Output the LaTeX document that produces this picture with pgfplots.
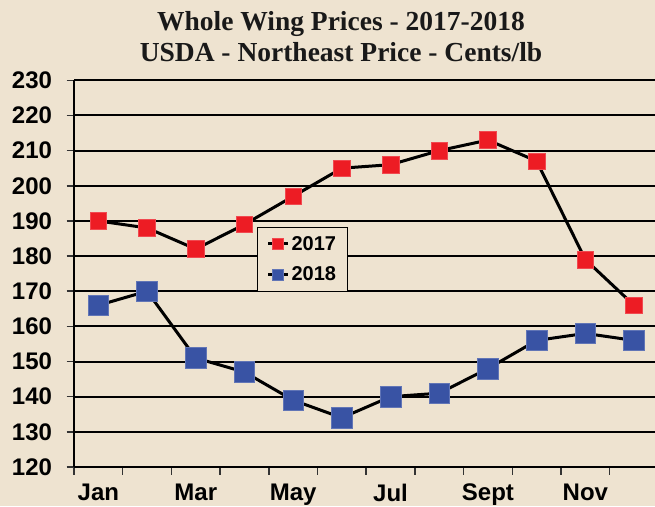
\documentclass[border=0pt]{standalone}
\usepackage{pgfplots}
\pgfplotsset{compat=1.18}
\usepackage{fontspec}
\setmainfont{Liberation Sans}
\newfontfamily\titlefont{Liberation Serif}
\definecolor{bg}{HTML}{EEE3D0}
\definecolor{sred}{HTML}{ED1C24}
\definecolor{sblue}{HTML}{3953A4}
\begin{document}
\begin{tikzpicture}[x=1pt,y=1pt]
\path[use as bounding box, fill=bg] (0,0) rectangle (655,506);
\node[anchor=base, font=\titlefont\bfseries\fontsize{27.5}{30}\selectfont, text=black!90] at (341,475) {Whole Wing Prices - 2017-2018};
\node[anchor=base, font=\titlefont\bfseries\fontsize{27.5}{30}\selectfont, text=black!90] at (341,444) {USDA - Northeast Price - Cents/lb};
\begin{axis}[
  at={(74pt,39pt)}, anchor=south west,
  scale only axis, width=581pt, height=386.7pt,
  xmin=0, xmax=11.93, ymin=120, ymax=230,
  axis x line*=bottom, axis y line*=left,
  axis line style={black, line width=2pt},
  ytick={120,130,...,230},
  xtick={0,2,4,6,8,10},
  xticklabels={Jan,Mar,May,Jul,Sept,Nov},
  minor xtick={1,3,5,7,9,11},
  x tick label style={xshift=24.35pt, yshift=-6pt},
  y tick label style={xshift=-11pt},
  /pgf/number format/assume math mode=true,
  tick align=outside,
  major tick length=7.5pt, minor tick length=7.5pt,
  tick style={black!80, line width=1.5pt},
  ymajorgrids,
  major grid style={black, line width=2pt},
  ticklabel style={font=\bfseries\fontsize{24}{28}\selectfont},
  clip=false,
  legend style={at={(0.315,0.6214)}, anchor=north west, fill=bg, draw=black, line width=1pt,
    font=\bfseries\fontsize{20}{22}\selectfont, row sep=11pt, inner xsep=9pt, inner ysep=7pt,
    nodes={inner sep=2pt}},
  legend cell align=left,
  legend image code/.code={\draw[#1, mark size=5.5pt, mark repeat=2, mark phase=2] plot coordinates {(0pt,0pt) (10pt,0pt) (20pt,0pt)};},
]
\addplot[black, line width=3pt, mark=square*, mark size=8.3pt, mark options={fill=sred, draw=sred!80!white, line width=0.6pt}]
coordinates {(0.5,190) (1.5,188) (2.5,182) (3.5,189) (4.5,197) (5.5,205) (6.5,206) (7.5,210) (8.5,213) (9.5,207) (10.5,179) (11.5,166)};
\addlegendentry{2017}
\addplot[black, line width=3pt, mark=square*, mark size=10.3pt, mark options={fill=sblue, draw=sblue!80!white, line width=0.6pt}]
coordinates {(0.5,166) (1.5,170) (2.5,151) (3.5,147) (4.5,139) (5.5,134) (6.5,140) (7.5,141) (8.5,148) (9.5,156) (10.5,158) (11.5,156)};
\addlegendentry{2018}
\end{axis}
\end{tikzpicture}
\end{document}
